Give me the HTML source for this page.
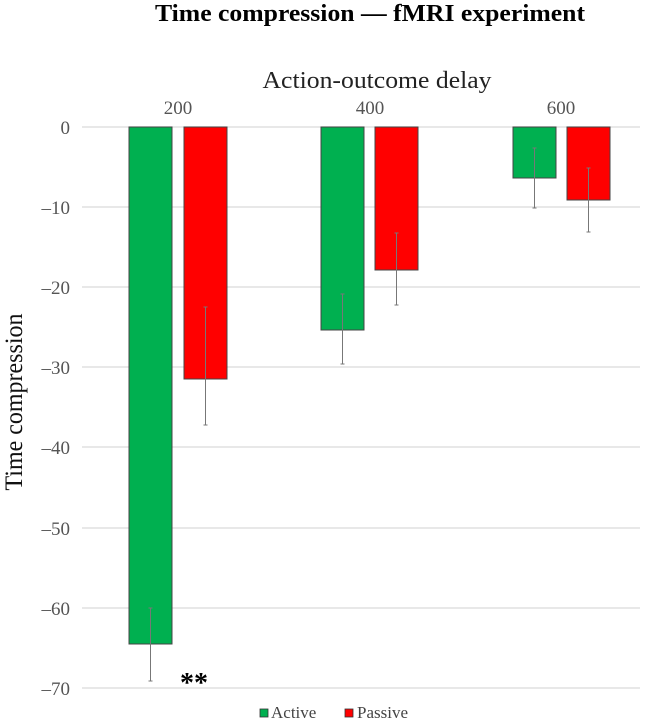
<!DOCTYPE html>
<html><head><meta charset="utf-8"><style>
body{margin:0;background:#fff}
svg{display:block;font-family:"Liberation Serif",serif}
</style></head><body>
<svg width="660" height="721" viewBox="0 0 660 721">
<text x="370" y="21" text-anchor="middle" font-size="24" font-weight="bold" textLength="430" lengthAdjust="spacingAndGlyphs">Time compression — fMRI experiment</text>
<text x="377" y="88" text-anchor="middle" font-size="24" fill="#222" textLength="229" lengthAdjust="spacingAndGlyphs">Action-outcome delay</text>
<g font-size="19" fill="#555" text-anchor="middle">
<text x="178" y="114">200</text><text x="370" y="114">400</text><text x="561" y="114">600</text>
</g>
<g stroke="#d9d9d9" stroke-width="1.2">
<line x1="82" x2="640" y1="127" y2="127"/><line x1="82" x2="640" y1="207" y2="207"/>
<line x1="82" x2="640" y1="287" y2="287"/><line x1="82" x2="640" y1="367" y2="367"/>
<line x1="82" x2="640" y1="447" y2="447"/><line x1="82" x2="640" y1="528" y2="528"/>
<line x1="82" x2="640" y1="608" y2="608"/><line x1="82" x2="640" y1="688" y2="688"/>
</g>
<g font-size="19" fill="#555" text-anchor="end">
<text x="70" y="134">0</text><text x="70" y="214">–10</text><text x="70" y="294">–20</text>
<text x="70" y="374">–30</text><text x="70" y="454">–40</text><text x="70" y="535">–50</text>
<text x="70" y="615">–60</text><text x="70" y="695">–70</text>
</g>
<text transform="translate(22,402) rotate(-90)" text-anchor="middle" font-size="25" fill="#111" textLength="177" lengthAdjust="spacingAndGlyphs">Time compression</text>
<g stroke="#444" stroke-width="1">
<rect x="129" y="127" width="43" height="517" fill="#00b050"/>
<rect x="184" y="127" width="43" height="252" fill="#ff0000"/>
<rect x="321" y="127" width="43" height="203" fill="#00b050"/>
<rect x="375" y="127" width="43" height="143" fill="#ff0000"/>
<rect x="513" y="127" width="43" height="51" fill="#00b050"/>
<rect x="567" y="127" width="43" height="73" fill="#ff0000"/>
</g>
<g stroke="#777" stroke-width="1">
<line x1="150.5" x2="150.5" y1="608" y2="681"/><line x1="148.5" x2="152.5" y1="608" y2="608"/><line x1="148.5" x2="152.5" y1="681" y2="681"/>
<line x1="205.5" x2="205.5" y1="307" y2="425"/><line x1="203.5" x2="207.5" y1="307" y2="307"/><line x1="203.5" x2="207.5" y1="425" y2="425"/>
<line x1="342.5" x2="342.5" y1="294" y2="364"/><line x1="340.5" x2="344.5" y1="294" y2="294"/><line x1="340.5" x2="344.5" y1="364" y2="364"/>
<line x1="396.5" x2="396.5" y1="233" y2="305"/><line x1="394.5" x2="398.5" y1="233" y2="233"/><line x1="394.5" x2="398.5" y1="305" y2="305"/>
<line x1="534.5" x2="534.5" y1="148" y2="208"/><line x1="532.5" x2="536.5" y1="148" y2="148"/><line x1="532.5" x2="536.5" y1="208" y2="208"/>
<line x1="588.5" x2="588.5" y1="168" y2="232"/><line x1="586.5" x2="590.5" y1="168" y2="168"/><line x1="586.5" x2="590.5" y1="232" y2="232"/>
</g>
<text x="180" y="692" font-size="28" font-weight="bold">**</text>
<rect x="260" y="709" width="8" height="8" fill="#00b050" stroke="#333" stroke-width="0.8"/>
<text x="271" y="718" font-size="17" fill="#444">Active</text>
<rect x="345" y="709" width="8" height="8" fill="#ff0000" stroke="#333" stroke-width="0.8"/>
<text x="357" y="718" font-size="17" fill="#444">Passive</text>
</svg>
</body></html>
